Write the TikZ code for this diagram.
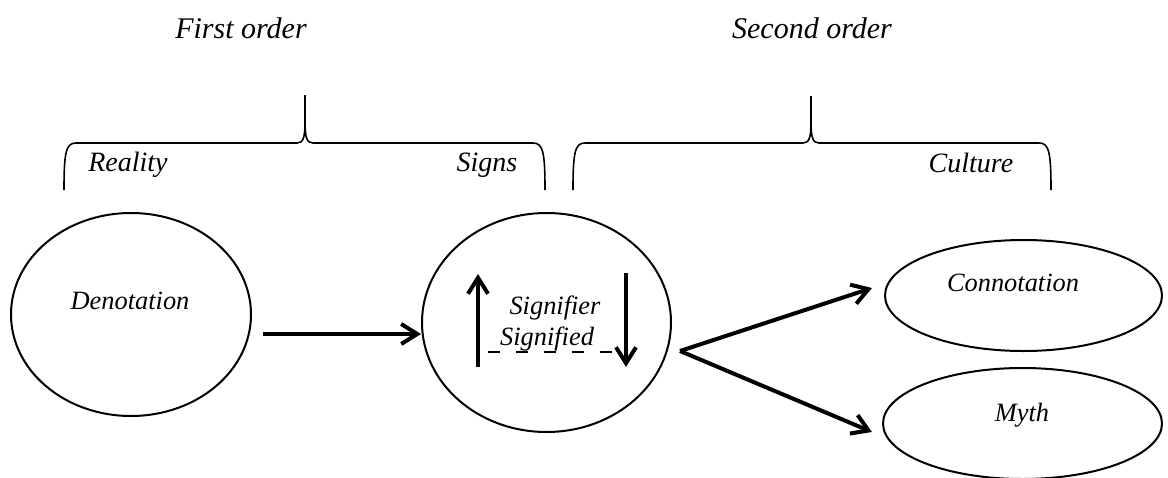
\documentclass[tikz,border=0pt]{standalone}
\usepackage{fontspec}
\setmainfont{Liberation Serif}
\usetikzlibrary{shapes.geometric,arrows.meta}
\tikzset{
  oval/.style={draw, ellipse, line width=1pt, inner sep=0pt},
  word/.style={font=\itshape\fontsize{13.2}{15}\selectfont, inner sep=0pt},
  head/.style={font=\itshape\fontsize{15}{18}\selectfont, inner sep=0pt},
  side/.style={font=\itshape\fontsize{14}{17}\selectfont, inner sep=0pt},
  arr/.style={line width=2pt, -{Straight Barb[length=8pt,width=10pt]}},
  brace/.style={line width=0.8pt}
}
\begin{document}
\begin{tikzpicture}[x=0.5pt,y=-0.5pt]
       \useasboundingbox (0,0) rectangle (1168,477);
       % headings and braces
       \node[head] (first) at (241,28) {First order};
       \node[head] (second) at (812,28) {Second order};
       \draw[brace] (64,190) .. controls (64,152) and (66,143) .. (76,143) -- (297,143) .. controls (303,143) and (305,138) .. (305,122) -- (305,95) -- (305,122) .. controls (305,138) and (307,143) .. (313,143) -- (533,143) .. controls (543,143) and (545,152) .. (545,190);
       \draw[brace] (573,190) .. controls (573,152) and (575,143) .. (585,143) -- (803,143) .. controls (809,143) and (811,138) .. (811,122) -- (811,96) -- (811,122) .. controls (811,138) and (813,143) .. (819,143) -- (1039,143) .. controls (1049,143) and (1051,152) .. (1051,190);
       \node[side] (reality) at (128,165) {Reality};
       \node[side] (signs) at (487,165) {Signs};
       \node[side] (culture) at (971,163) {Culture};
       % ellipses
       \node[oval, minimum width=120pt, minimum height=101.5pt] (den) at (131,314.5) {};
       \node[word] (dentxt) at (130,301) {Denotation};
       \node[oval, minimum width=124.5pt, minimum height=109.5pt] (sig) at (546.5,322.5) {};
       \node[word] (sigtxt) at (555,308) {Signifier};
       \node[word] (sdtxt) at (547,339) {Signified};
       \node[oval, minimum width=138.5pt, minimum height=55.5pt] (con) at (1023.5,295.5) {};
       \node[word] (contxt) at (1013,283) {Connotation};
       \node[oval, minimum width=139.5pt, minimum height=55.5pt] (myth) at (1022.5,423.5) {};
       \node[word] (mythtxt) at (1022,415) {Myth};
       % arrows
       \coordinate (h1) at (263,334);
       \draw[arr] (h1) -- (h1 -| sig.west);
       \coordinate (upbot) at (478,367);
       \coordinate (uptop) at (478,274);
       \coordinate (dntop) at (626,273);
       \coordinate (dnbot) at (626,367);
       \draw[arr] (upbot) -- (uptop);
       \draw[arr] (dntop) -- (dnbot);
       \draw[line width=0.7pt, dash pattern=on 6pt off 8pt] (488,352) -- (612,352);
       \coordinate (fork) at (680,351);
       \coordinate (contip) at (872,288);
       \coordinate (mythtip) at (872,432);
       \draw[arr] (fork) -- (contip);
       \draw[arr] (fork) -- (mythtip);
\end{tikzpicture}
\end{document}
